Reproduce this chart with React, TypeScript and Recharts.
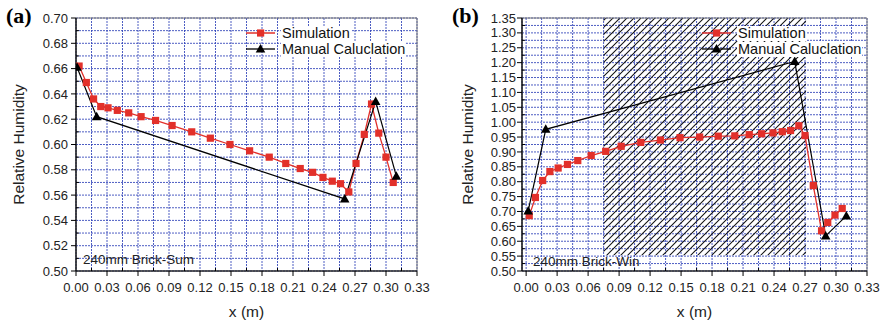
import React from "react";
import {
  ComposedChart,
  Line,
  XAxis,
  YAxis,
  CartesianGrid,
  ReferenceArea,
} from "recharts";

// ---- panel (a): 240mm Brick-Sum ----
const simAx = [0.003, 0.010, 0.017, 0.024, 0.031, 0.040, 0.051, 0.063, 0.077, 0.093, 0.112, 0.130, 0.149, 0.168, 0.187, 0.203, 0.217, 0.229, 0.239, 0.248, 0.256, 0.264, 0.271, 0.279, 0.286, 0.293, 0.300, 0.307];
const simAy = [0.662, 0.649, 0.636, 0.630, 0.629, 0.627, 0.625, 0.622, 0.619, 0.615, 0.610, 0.605, 0.600, 0.595, 0.590, 0.585, 0.581, 0.578, 0.574, 0.571, 0.569, 0.5625, 0.585, 0.608, 0.632, 0.609, 0.590, 0.570];
const manAx = [0.001, 0.020, 0.260, 0.290, 0.310];
const manAy = [0.661, 0.622, 0.557, 0.634, 0.575];

// ---- panel (b): 240mm Brick-Win ----
const simBx = [0.003, 0.009, 0.016, 0.023, 0.031, 0.040, 0.050, 0.063, 0.077, 0.092, 0.111, 0.130, 0.149, 0.168, 0.186, 0.202, 0.216, 0.228, 0.239, 0.248, 0.256, 0.264, 0.270, 0.278, 0.286, 0.292, 0.299, 0.306];
const simBy = [0.686, 0.747, 0.804, 0.834, 0.846, 0.858, 0.871, 0.888, 0.902, 0.919, 0.932, 0.940, 0.948, 0.950, 0.953, 0.954, 0.958, 0.961, 0.964, 0.968, 0.972, 0.988, 0.955, 0.787, 0.635, 0.663, 0.688, 0.710];
const manBx = [0.002, 0.019, 0.260, 0.290, 0.310];
const manBy = [0.702, 0.976, 1.204, 0.618, 0.685];

// shaded (hatched) zone in panel (b)
const hatchB = { x1: 0.075, x2: 0.271, y1: 0.553, y2: 1.35 };

// ticks: even index = labelled major tick, odd index = minor tick
const xTicks = [0, 0.015, 0.03, 0.045, 0.06, 0.075, 0.09, 0.105, 0.12, 0.135, 0.15, 0.165, 0.18, 0.195, 0.21, 0.225, 0.24, 0.255, 0.27, 0.285, 0.3, 0.315, 0.33];
const yTicksA = [0.5, 0.51, 0.52, 0.53, 0.54, 0.55, 0.56, 0.57, 0.58, 0.59, 0.6, 0.61, 0.62, 0.63, 0.64, 0.65, 0.66, 0.67, 0.68, 0.69, 0.7];
const yTicksB = [0.5, 0.525, 0.55, 0.575, 0.6, 0.625, 0.65, 0.675, 0.7, 0.725, 0.75, 0.775, 0.8, 0.825, 0.85, 0.875, 0.9, 0.925, 0.95, 0.975, 1.0, 1.025, 1.05, 1.075, 1.1, 1.125, 1.15, 1.175, 1.2, 1.225, 1.25, 1.275, 1.3, 1.325, 1.35];

const seriesNames = ["Simulation", "Manual Caluclation"];

const RED = "#e2302a";
const GRID = "#2f42b8";
const FONT = "'Liberation Sans', Arial, Helvetica, sans-serif";

const zip = (xs: number[], ys: number[]) => xs.map((x, i) => ({ x, y: ys[i] }));

function SquareDot(props: any) {
  const { cx, cy } = props;
  if (cx == null || cy == null) return null;
  return <rect x={cx - 3.6} y={cy - 3.6} width={7.2} height={7.2} fill={RED} />;
}

function TriangleDot(props: any) {
  const { cx, cy } = props;
  if (cx == null || cy == null) return null;
  return <polygon points={`${cx},${cy - 5} ${cx - 4.8},${cy + 3.5} ${cx + 4.8},${cy + 3.5}`} fill="#000" />;
}

function XTick(props: any) {
  const { x, y, payload, index } = props;
  const major = index % 2 === 0;
  return (
    <g>
      <line x1={x} x2={x} y1={y} y2={major ? y + 5 : y - 3} stroke="#000" strokeWidth={1} />
      {major && (
        <text x={x} y={y + 21} textAnchor="middle" fontSize={13} fill="#222" fontFamily={FONT}>
          {Number(payload.value).toFixed(2)}
        </text>
      )}
    </g>
  );
}

function YTick(props: any) {
  const { x, y, payload, index, gap } = props;
  const major = index % 2 === 0;
  return (
    <g>
      <line x1={x} x2={major ? x - 5 : x + 3} y1={y} y2={y} stroke="#000" strokeWidth={1} />
      {major && (
        <text x={x - gap} y={y + 4.6} textAnchor="end" fontSize={13} fill="#222" fontFamily={FONT}>
          {Number(payload.value).toFixed(2)}
        </text>
      )}
    </g>
  );
}

function LegendBox({ left, top }: { left: number; top: number }) {
  const row = (i: number) => (
    <div key={i} style={{ display: "flex", alignItems: "center", height: 16 }}>
      <svg width={30} height={12} style={{ marginRight: 5 }}>
        {i === 0 ? (
          <>
            <line x1={0} x2={29} y1={6} y2={6} stroke={RED} strokeWidth={1.5} />
            <rect x={11} y={2.4} width={7.2} height={7.2} fill={RED} />
          </>
        ) : (
          <>
            <line x1={0} x2={29} y1={6} y2={6} stroke="#000" strokeWidth={1.3} />
            <polygon points="14.5,1 9.7,9.5 19.3,9.5" fill="#000" />
          </>
        )}
      </svg>
      <span style={{ background: "#fff", lineHeight: "15px", padding: "0 1px" }}>{seriesNames[i]}</span>
    </div>
  );
  return (
    <div style={{ position: "absolute", left, top, fontFamily: FONT, fontSize: 14.5, color: "#111" }}>
      {row(0)}
      {row(1)}
    </div>
  );
}

interface PanelProps {
  sim: { x: number; y: number }[];
  man: { x: number; y: number }[];
  yTicks: number[];
  yDomain: [number, number];
  xDomain: [number, number];
  yAxisWidth: number;
  rightMargin: number;
  labelGap: number;
  titleOffset: number;
  hatch?: { x1: number; x2: number; y1: number; y2: number };
}

function Panel(p: PanelProps) {
  return (
    <ComposedChart width={442} height={324} margin={{ top: 18, right: p.rightMargin, bottom: 0, left: 0 }}>
      <CartesianGrid stroke={GRID} strokeDasharray="2 1" strokeWidth={1} strokeOpacity={0.85} />
      {p.hatch && (
        <ReferenceArea
          x1={p.hatch.x1}
          x2={p.hatch.x2}
          y1={p.hatch.y1}
          y2={p.hatch.y2}
          fill="url(#hatchPattern)"
          fillOpacity={1}
          stroke="none"
          ifOverflow="visible"
        />
      )}
      <XAxis
        type="number"
        dataKey="x"
        domain={p.xDomain}
        ticks={xTicks}
        interval={0}
        allowDataOverflow
        height={53}
        tickSize={0}
        tickMargin={0}
        tickLine={false}
        axisLine={{ stroke: "#000", strokeWidth: 1.2 }}
        tick={<XTick />}
        label={{
          value: "x (m)",
          position: "insideBottom",
          offset: 7,
          style: { fontSize: 15.5, fill: "#222", fontFamily: FONT },
        }}
      />
      <YAxis
        type="number"
        dataKey="y"
        domain={p.yDomain}
        ticks={p.yTicks}
        interval={0}
        allowDataOverflow
        width={p.yAxisWidth}
        tickSize={0}
        tickMargin={0}
        tickLine={false}
        axisLine={{ stroke: "#000", strokeWidth: 1.2 }}
        tick={<YTick gap={p.labelGap} />}
        label={{
          value: "Relative Humidity",
          angle: -90,
          position: "insideLeft",
          offset: p.titleOffset,
          style: { fontSize: 15.5, fill: "#222", fontFamily: FONT, textAnchor: "middle" },
        }}
      />
      <ReferenceArea
        x1={p.xDomain[0]}
        x2={p.xDomain[1]}
        y1={p.yDomain[0]}
        y2={p.yDomain[1]}
        fill="none"
        stroke="#777"
        strokeWidth={1}
        ifOverflow="visible"
      />
      <Line
        data={p.sim}
        dataKey="y"
        type="linear"
        stroke={RED}
        strokeWidth={1.3}
        dot={<SquareDot />}
        activeDot={false}
        isAnimationActive={false}
      />
      <Line
        data={p.man}
        dataKey="y"
        type="linear"
        stroke="#000"
        strokeWidth={1.2}
        dot={<TriangleDot />}
        activeDot={false}
        isAnimationActive={false}
      />
    </ComposedChart>
  );
}

export default function App() {
  return (
    <div style={{ position: "absolute", left: 0, top: 0, width: 884, height: 324, background: "#fff", overflow: "hidden" }}>
      <svg width={0} height={0} style={{ position: "absolute" }}>
        <defs>
          <pattern id="hatchPattern" patternUnits="userSpaceOnUse" width={7} height={7}>
            <path d="M-1,1 l2,-2 M0,7 l7,-7 M6,8 l2,-2" stroke="#111" strokeWidth={1.05} />
          </pattern>
        </defs>
      </svg>

      <div style={{ position: "absolute", left: 0, top: 0 }}>
        <Panel
          sim={zip(simAx, simAy)}
          man={zip(manAx, manAy)}
          yTicks={yTicksA}
          yDomain={[0.5, 0.7]}
          xDomain={[0, 0.33]}
          yAxisWidth={76}
          rightMargin={25}
          labelGap={8}
          titleOffset={18}
        />
      </div>
      <div style={{ position: "absolute", left: 442, top: 0 }}>
        <Panel
          sim={zip(simBx, simBy)}
          man={zip(manBx, manBy)}
          yTicks={yTicksB}
          yDomain={[0.5, 1.35]}
          xDomain={[-0.004, 0.33]}
          yAxisWidth={80}
          rightMargin={17}
          labelGap={6}
          titleOffset={25}
          hatch={hatchB}
        />
      </div>

      <LegendBox left={246} top={25} />
      <LegendBox left={702} top={25} />

      <div style={{ position: "absolute", left: 83, top: 252, fontFamily: FONT, fontSize: 13.5, color: "#222" }}>
        240mm Brick-Sum
      </div>
      <div style={{ position: "absolute", left: 533, top: 254, fontFamily: FONT, fontSize: 13.5, color: "#222" }}>
        240mm Brick-Win
      </div>

      <div style={{ position: "absolute", left: 6, top: 5, fontFamily: "'Liberation Serif', 'Times New Roman', serif", fontWeight: "bold", fontSize: 22, lineHeight: "22px" }}>
        (a)
      </div>
      <div style={{ position: "absolute", left: 452, top: 5, fontFamily: "'Liberation Serif', 'Times New Roman', serif", fontWeight: "bold", fontSize: 22, lineHeight: "22px" }}>
        (b)
      </div>
    </div>
  );
}
